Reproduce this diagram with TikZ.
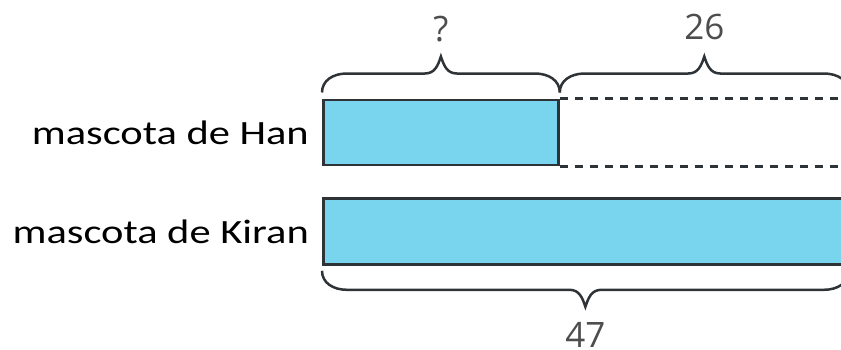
\documentclass[tikz,border=0pt]{standalone}
\usepackage{fontspec}
\usepackage{tikz}
\usetikzlibrary{positioning,calc}
\newfontfamily\labelfont[FakeStretch=1.25]{Carlito}
\newfontfamily\numfont{Open Sans}
\definecolor{barblue}{HTML}{79D5ED}
\definecolor{barline}{HTML}{2E3338}
\definecolor{numgray}{HTML}{4D4D4D}

\begin{document}
\begin{tikzpicture}[x=1pt,y=1pt,
        bar/.style={draw=barline,fill=barblue,line width=2.8pt,anchor=north west,inner sep=0pt},
        dashline/.style={draw=barline,line width=2.8pt,dash pattern=on 8pt off 7pt},
        pet/.style={font=\labelfont\fontsize{34}{40}\selectfont,inner sep=0pt},
        num/.style={font=\numfont\fontsize{35}{40}\selectfont,text=numgray,inner sep=0pt,anchor=base},
        curly/.style={draw=barline,line width=2.5pt,to path={
            let \p1=(\tikztostart), \p2=(\tikztotarget), \n1={0.5*(\x1+\x2)} in
            (\p1) .. controls +(0,{12pt*(#1)}) and +(-14pt,0) .. (\x1+25pt,{\y1+19pt*(#1)})
            -- (\n1-16pt,{\y1+19pt*(#1)}) .. controls +(10pt,0) and +(-3pt,{-9pt*(#1)}) .. (\n1,{\y1+36pt*(#1)})
            .. controls +(3pt,{-9pt*(#1)}) and +(-10pt,0) .. (\n1+16pt,{\y1+19pt*(#1)})
            -- (\x2-25pt,{\y1+19pt*(#1)}) .. controls +(14pt,0) and +(0,{12pt*(#1)}) .. (\p2)}}]

    \useasboundingbox (0,0) rectangle (841,349);
    \clip (0,0) rectangle (841,349);

    \node[bar,minimum width=235pt,minimum height=65pt] (han) at (322,250.5) {};
    \node[bar,minimum width=524pt,minimum height=66pt] (kiran) at (322,152) {};

    \node[pet,left=13pt of han] (hanlabel) {mascota de Han};
    \node[pet,left=13pt of kiran] (kiranlabel) {mascota de Kiran};

    \coordinate (dn) at (han.north -| kiran.east);
    \coordinate (ds) at (han.south -| kiran.east);
    \draw[dashline] (han.north east) -- (dn);
    \draw[dashline] (han.south east) -- (ds);

    \draw[curly=1] ([yshift=6pt]han.north west) to ([yshift=6pt]han.north east);
    \draw[curly=1] ([yshift=6pt]han.north east) to ([yshift=6pt]dn);
    \draw[curly=-1] ([yshift=-5pt]kiran.south west) to ([yshift=-5pt]kiran.south east);

    \node[num] (part) at ([yshift=57pt]han.north) {?};
    \node[num] (rest) at ($(han.north east)!.5!(dn)+(0,59)$) {26};
    \node[num] (total) at ([yshift=-82pt]kiran.south) {47};
\end{tikzpicture}
\end{document}
